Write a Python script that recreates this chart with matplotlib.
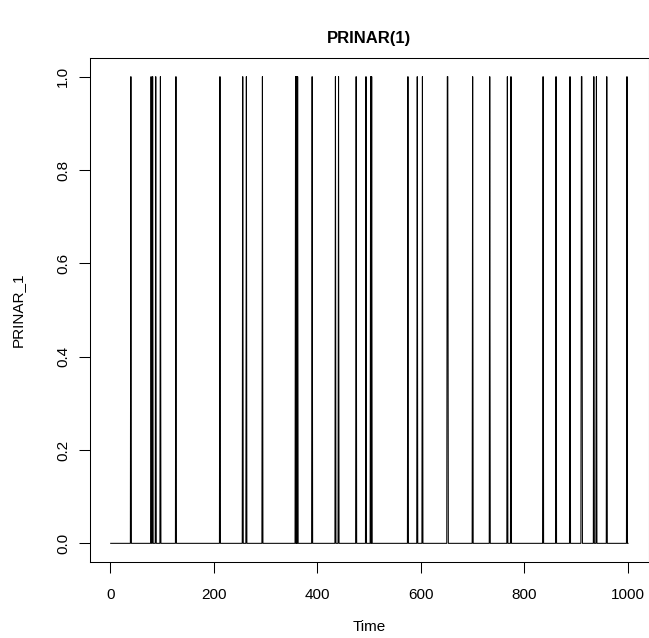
import numpy as np
import matplotlib
matplotlib.use("Agg")
import matplotlib.pyplot as plt

# time indices where PRINAR_1 == 1 (series length 1000, otherwise 0)
spike_times = [40, 79, 82, 88, 97, 127, 212, 256, 263, 294, 358, 360, 362, 390,
               435, 441, 475, 494, 503, 505, 575, 593, 603, 651, 652,
               700, 733, 767, 774, 836, 861, 888, 910, 911, 934, 939, 959, 998]
n_obs = 1000
x_ticks = [0, 200, 400, 600, 800, 1000]
y_ticks = [0.0, 0.2, 0.4, 0.6, 0.8, 1.0]
y_tick_labels = ["0.0", "0.2", "0.4", "0.6", "0.8", "1.0"]

time = np.arange(1, n_obs + 1)
series = np.zeros(n_obs)
series[np.array(spike_times) - 1] = 1.0

plt.rcParams['font.family'] = ['Liberation Sans', 'DejaVu Sans']
W, H = 649, 638
fig = plt.figure(figsize=(W / 100, H / 100), dpi=100)
left, right, top, bottom = 90, 648.7, 58, 562
ax = fig.add_axes([left / W, (H - bottom) / H, (right - left) / W, (bottom - top) / H])
ax.plot(time, series, color='black', linewidth=0.75)

xr = n_obs - 1
ax.set_xlim(1 - 0.04 * xr, n_obs + 0.04 * xr)
ax.set_ylim(-0.04, 1.04)
ax.set_xticks(x_ticks)
ax.set_xticklabels([str(v) for v in x_ticks], fontsize=11)
ax.set_yticks(y_ticks)
ax.set_yticklabels(y_tick_labels, fontsize=11, rotation=90, va='center')
ax.tick_params(direction='out', length=7.9, width=0.75)
ax.tick_params(axis='x', pad=10.5)
ax.tick_params(axis='y', pad=6.5)
for s in ax.spines.values():
    s.set_linewidth(0.75)
fig.text((left + right) / 2 / W, 1 - 627 / H, "Time", ha='center', va='center', fontsize=11)
fig.text(18 / W, 1 - (top + bottom) / 2 / H, "PRINAR_1", ha='center', va='center',
         fontsize=11, rotation=90)
fig.text((left + right) / 2 / W, 1 - 38 / H, "PRINAR(1)", ha='center', va='center',
         fontsize=12, fontweight='bold')
fig.savefig("out.png", dpi=100)
